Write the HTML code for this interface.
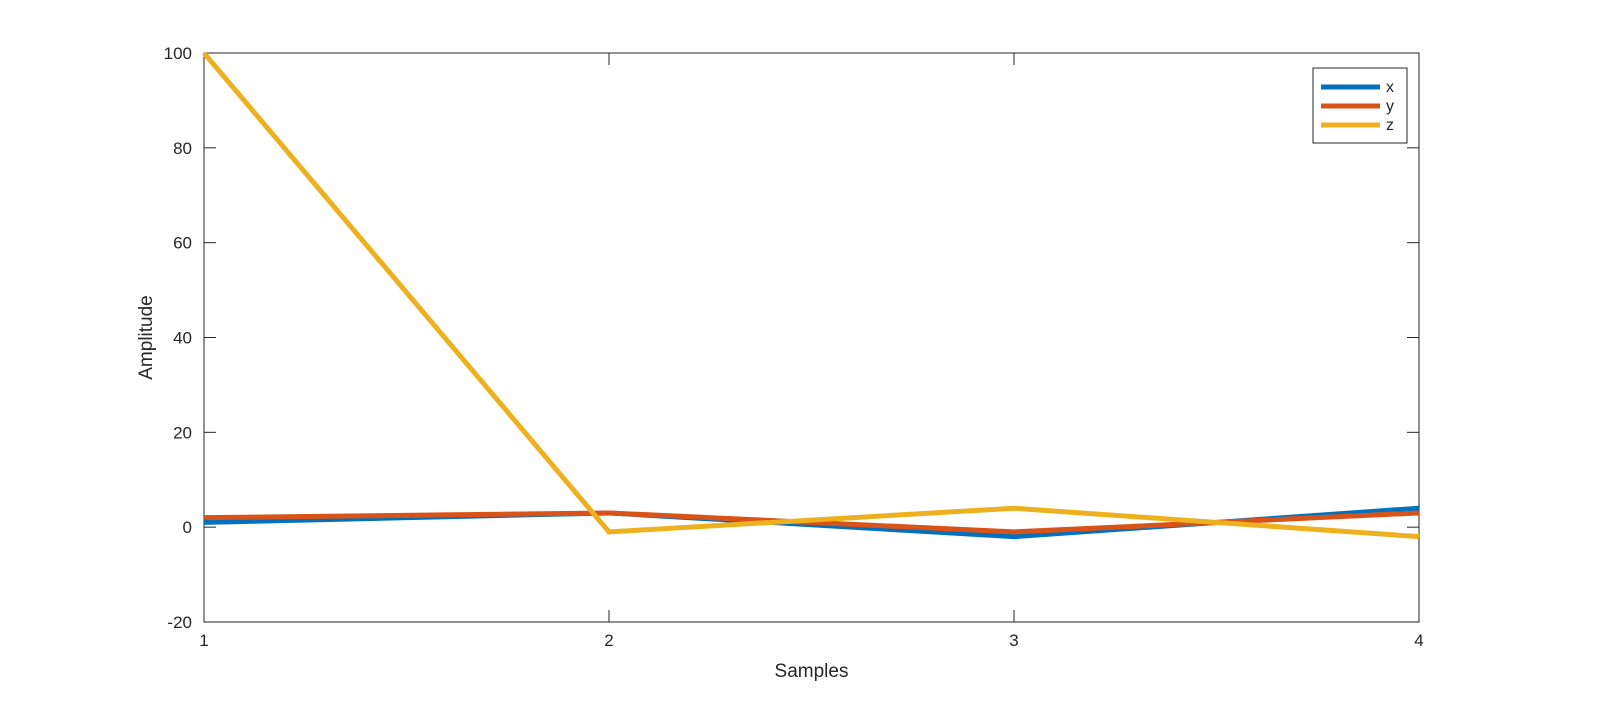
<!DOCTYPE html>
<html><head><meta charset="utf-8"><style>
body{margin:0;background:#fff;font-family:"Liberation Sans",sans-serif}
svg text{font-family:"Liberation Sans",sans-serif;fill:#262626}
</style></head><body>
<svg id="chart" width="1600" height="714" xmlns="http://www.w3.org/2000/svg">
<rect x="0" y="0" width="1600" height="714" fill="#fff"/>
<g id="plot"></g>
</svg>
<script>
const categories=[1,2,3,4];
const seriesNames=['x','y','z'];
const xValues=[1,3,-2,4];
const yValues=[2,3,-1,3];
const zValues=[100,-1,4,-2];
const yTicks=[-20,0,20,40,60,80,100];
const colors=['#0072BD','#D95319','#EDB120'];
const L=204,R=1419,T=53,B=622;
const sx=v=>L+(v-1)/(4-1)*(R-L);
const sy=v=>B-(v+20)/120*(B-T);
const NS='http://www.w3.org/2000/svg';
const g=document.getElementById('plot');
function mk(t,a,p){const e=document.createElementNS(NS,t);for(const k in a)e.setAttribute(k,a[k]);(p||g).appendChild(e);return e;}
const box=mk('rect',{x:L,y:T,width:R-L,height:B-T,fill:'#fff',stroke:'#262626','stroke-width':1});


yTicks.forEach(v=>{const y=sy(v);
 mk('line',{x1:L,x2:L+12,y1:y,y2:y,stroke:'#262626'});mk('line',{x1:R-12,x2:R,y1:y,y2:y,stroke:'#262626'});
 const t=mk('text',{x:L-12,y:y+6,'text-anchor':'end','font-size':17});t.textContent=v;
 
 });
categories.forEach(c=>{const x=sx(c);
 mk('line',{x1:x,x2:x,y1:B,y2:B-12,stroke:'#262626'});mk('line',{x1:x,x2:x,y1:T,y2:T+12,stroke:'#262626'});
 const t=mk('text',{x:x,y:B+24,'text-anchor':'middle','font-size':17});t.textContent=c;
 
 });
const xt=mk('text',{x:(L+R)/2,y:677,'text-anchor':'middle','font-size':19});xt.textContent='Samples';


const yt=mk('text',{x:152,y:(T+B)/2,'text-anchor':'middle','font-size':19,transform:`rotate(-90 152 ${(T+B)/2})`});yt.textContent='Amplitude';


[xValues,yValues,zValues].forEach((vals,i)=>{
 const p=mk('polyline',{points:vals.map((v,j)=>sx(categories[j])+','+sy(v)).join(' '),fill:'none',stroke:colors[i],'stroke-width':5,'stroke-linejoin':'miter'});
 
 });
const lg=mk('rect',{x:1313,y:68,width:94,height:75,fill:'#fff',stroke:'#262626'});


seriesNames.forEach((n,i)=>{const y=87+i*19;
 mk('line',{x1:1321,x2:1380,y1:y,y2:y,stroke:colors[i],'stroke-width':5});
 const t=mk('text',{x:1386,y:y+5,'font-size':16});t.textContent=n;
 
 });
</script>
</body></html>
